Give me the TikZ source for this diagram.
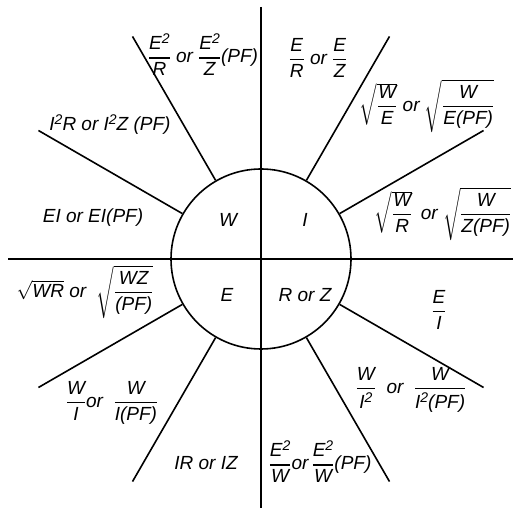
\documentclass[tikz,border=0pt]{standalone}
\usepackage{fix-cm}
\usepackage{amsmath}
\usepackage{fontspec}
\setmainfont{Liberation Sans}
\newcommand\tx[1]{\text{#1}}
\newcommand\fr[2]{\genfrac{}{}{1.1pt}{0}{\tx{#1}}{\tx{#2}}}
\newcommand\sq{\raisebox{6pt}{\fontsize{14}{14}\selectfont 2}}
\begin{document}
\begin{tikzpicture}[x=1pt,y=1pt,
  lbl/.style={font=\fontsize{19}{22}\selectfont\itshape, inner sep=0pt},
  ln/.style={line width=1.6pt}]
\useasboundingbox (0,0) rectangle (513,513);
\coordinate (c) at (261,254);
\node[ln, draw, circle, minimum size=180pt, inner sep=0pt] (circ) at (c) {};
\coordinate (top) at (261,506);
\coordinate (bot) at (261,5);
\coordinate (lft) at (8,254);
\coordinate (rgt) at (513,254);
\draw[ln] (top) -- (bot);
\draw[ln] (lft) -- (rgt);
\foreach \a in {30,60,120,150,210,240,300,330}{
  \path (c) ++(\a:257) coordinate (o\a);
  \draw[ln] (circ.\a) -- (o\a);
}
\node[lbl] (w) at (228,293) {W};
\node[lbl] (i) at (305,293) {I};
\node[lbl] (e) at (227,218) {E};
\node[lbl] (rz) at (305,218) {R or Z};
\node[lbl] (t1) at (203,458) {$\fr{E\sq}{R}$ or $\fr{E\sq}{Z}$(PF)};
\node[lbl] (t2) at (110,388) {I\sq R or I\sq Z (PF)};
\node[lbl] (t3) at (93,295) {EI or EI(PF)};
\node[lbl] (t4) at (318,455) {$\fr{E}{R}$ or $\fr{E}{Z}$};
\node[lbl] (t5) at (427,407) {$\sqrt{\fr{W}{E}}$ or $\sqrt{\fr{W}{E(PF)}}$};
\node[lbl] (t6) at (443,299) {$\sqrt{\fr{W}{R}}$ \,or $\sqrt{\fr{W}{Z(PF)}}$};
\node[lbl] (t7) at (85,221) {$\sqrt{\tx{WR}}$ or \ $\sqrt{\fr{WZ}{(PF)}}$};
\node[lbl] (t8) at (112,110) {$\fr{W}{I}$or \ $\fr{W}{I(PF)}$};
\node[lbl] (t9) at (206,50) {IR or IZ};
\node[lbl] (t10) at (439,203) {$\fr{E}{I}$};
\node[lbl] (t11) at (411,123) {$\fr{W}{I\sq}$ \ or \ $\fr{W}{I\sq(PF)}$};
\node[lbl] (t12) at (320,51) {$\fr{E\sq}{W}$or\,$\fr{E\sq}{W}$(PF)};
\end{tikzpicture}
\end{document}
